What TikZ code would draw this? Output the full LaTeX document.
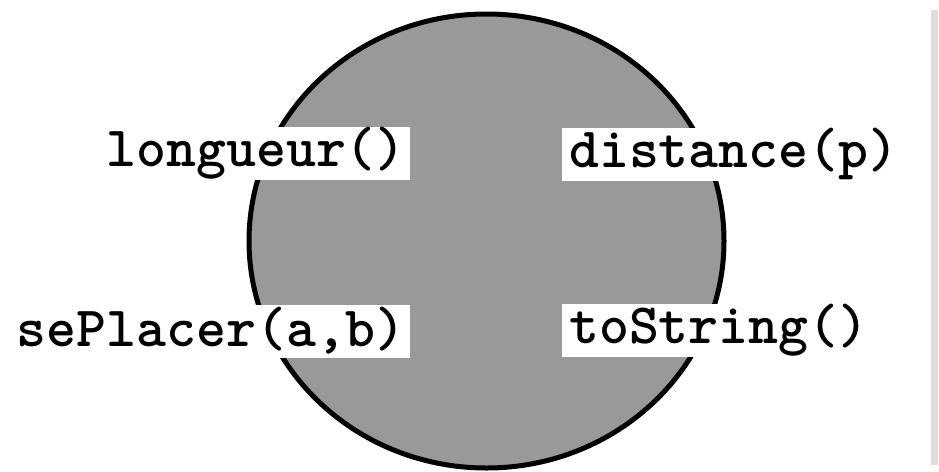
\documentclass[tikz,border=0pt]{standalone}
\usepackage{fontspec}
\definecolor{bodygray}{HTML}{999999}
\definecolor{bargray}{HTML}{DDDDDD}
\tikzset{
  method/.style={fill=white, inner ysep=0pt, minimum height=53pt,
    font=\ttfamily\bfseries\fontsize{57}{59}\selectfont, text=black},
  leftm/.style={method, anchor=east, inner xsep=4pt},
  rightm/.style={method, anchor=west, inner xsep=7pt},
}
\begin{document}
\begin{tikzpicture}[x=1pt,y=-1pt]
\useasboundingbox (0,0) rectangle (939,471);
\fill[white] (0,0) rectangle (939,471);
\fill[bargray] (931,10) rectangle (938,465);
\draw[line width=5pt, fill=bodygray] (486.5,241) ellipse [x radius=237.5, y radius=227];
\node[leftm] (lon) at (410,153.5) {longueur()};
\node[rightm] (dis) at (562,154) {distance(p)};
\node[leftm] (sep) at (410,331) {sePlacer(a,b)};
\node[rightm] (tos) at (562,330.5) {toString()};
\end{tikzpicture}
\end{document}
